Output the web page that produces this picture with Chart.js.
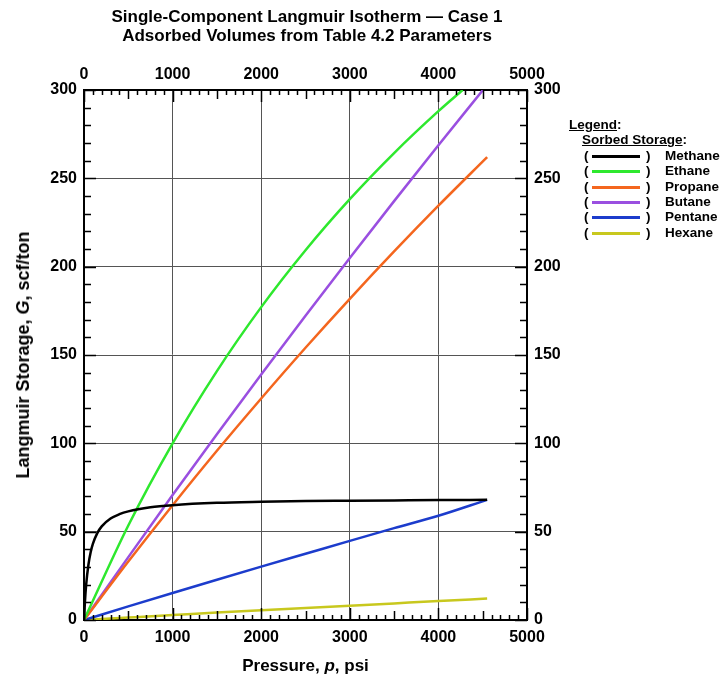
<!DOCTYPE html>
<html><head><meta charset="utf-8">
<script src="https://cdn.jsdelivr.net/npm/chart.js@4.4.1/dist/chart.umd.min.js"></script>
<style>
html,body{margin:0;padding:0;background:#fff;}
#wrap{position:relative;width:722px;height:681px;font-family:"Liberation Sans",Arial,sans-serif;}
#c{position:absolute;left:0;top:0;}
.t{position:absolute;font-weight:bold;color:#000;white-space:nowrap;}
#title{left:0;width:614px;top:7px;text-align:center;font-size:17px;line-height:19px;}
#xt{left:84px;width:443px;top:656px;text-align:center;font-size:17px;line-height:20px;}
#yt{left:23px;top:355px;font-size:18px;line-height:20px;transform:translate(-50%,-50%) rotate(-90deg);}
#leg{position:absolute;left:569px;top:117px;font-size:13.5px;font-weight:bold;line-height:15.4px;}
#leg .u{text-decoration:underline;}
#leg .row{position:relative;height:15.4px;margin-left:13px;}
#leg .row span{position:absolute;top:0;}
#leg .row i{position:absolute;left:10px;top:7px;width:48px;height:3px;}
</style></head>
<body><div id="wrap">
<canvas id="c" width="722" height="681"></canvas>
<div class="t" id="title">Single-Component Langmuir Isotherm — Case 1<br>Adsorbed Volumes from Table 4.2 Parameters</div>
<div class="t" id="xt">Pressure, <i>p</i>, psi</div>
<div class="t" id="yt">Langmuir Storage, <i>G</i>, scf/ton</div>
<div id="leg"></div>
</div>
<script>
const seriesNames = ["Methane","Ethane","Propane","Butane","Pentane","Hexane"];
const seriesColors = ["#000000","#2ee82e","#f4661e","#9a4fe0","#1c3ccc","#c8c81e"];
const methaneP = [0,10,25,50,75,100,150,200,300,400,500,750,1000,1500,2000,2500,3000,3500,4000,4550];
const methaneG = [0,9.8,20.3,31.3,38.3,43.1,49.2,53.0,57.4,59.9,61.5,63.8,65.0,66.3,66.9,67.3,67.5,67.7,67.9,68.0];
const ethaneP = [0,500,1000,1500,2000,2500,3000,3500,4000,4274];
const ethaneG = [0,53.5,100,140.9,177.1,209.3,238.2,264.3,288.0,300];
const propaneP = [0,500,1000,1500,2000,2500,3000,3500,4000,4550];
const propaneG = [0,33.1,65.0,95.8,125.4,154.1,181.8,208.6,234.5,262];
const butaneP = [0,500,1000,1500,2000,2500,3000,3500,4000,4503];
const butaneG = [0,35.6,70.7,105.1,138.9,172.2,204.9,237.1,268.7,300];
const pentaneP = [0,500,1000,1500,2000,2500,3000,3500,4000,4550];
const pentaneG = [0,7.7,15.3,22.8,30.2,37.5,44.8,52.0,59.0,68.0];
const hexaneP = [0,500,1000,1500,2000,2500,3000,3500,4000,4550];
const hexaneG = [0,1.4,2.8,4.2,5.5,6.8,8.1,9.4,10.7,12.1];
const xTicks = [0,1000,2000,3000,4000,5000];
const yTicks = [0,50,100,150,200,250,300];

const P = [methaneP,ethaneP,propaneP,butaneP,pentaneP,hexaneP];
const G = [methaneG,ethaneG,propaneG,butaneG,pentaneG,hexaneG];

const leg = document.getElementById('leg');
leg.innerHTML = '<div><span class="u">Legend</span>:</div><div style="margin-left:13px"><span class="u">Sorbed Storage</span>:</div>' +
  seriesNames.map((n,i)=>'<div class="row"><span style="left:2px">(</span><i style="background:'+seriesColors[i]+'"></i><span style="left:64px">)</span><span style="left:83px">'+n+'</span></div>').join('');

const tickFont = {family:'"Liberation Sans", Arial, sans-serif', size:16, weight:'bold'};

const minorTicks = {
  id:'minorTicks',
  afterDatasetsDraw(chart){
    const ctx = chart.ctx, a = chart.chartArea;
    const xs = chart.scales.x, ys = chart.scales.y;
    ctx.save();
    ctx.strokeStyle = '#000'; ctx.lineWidth = 1.5;
    ctx.beginPath();
    for(let v=0; v<=5000; v+=100){
      const px = Math.round(xs.getPixelForValue(v))+0.5;
      const len = v%1000===0 ? 12 : (v%500===0 ? 9 : 5);
      ctx.moveTo(px,a.bottom); ctx.lineTo(px,a.bottom-len);
      ctx.moveTo(px,a.top); ctx.lineTo(px,a.top+len);
    }
    for(let v=0; v<=300; v+=10){
      const py = Math.round(ys.getPixelForValue(v))+0.5;
      const len = v%50===0 ? 12 : 7;
      ctx.moveTo(a.left,py); ctx.lineTo(a.left+len,py);
      ctx.moveTo(a.right,py); ctx.lineTo(a.right-len,py);
    }
    ctx.stroke();
    ctx.restore();
  }
};

const datasets = seriesNames.map((n,i)=>({
  label:n,
  data:P[i].map((p,j)=>({x:p,y:G[i][j]})),
  showLine:true, borderColor:seriesColors[i], backgroundColor:seriesColors[i],
  borderWidth:2.5, pointRadius:0, cubicInterpolationMode:'monotone', fill:false
}));

function xAxis(pos, h, pad, grid){
  return {type:'linear', position:pos, min:0, max:5000,
    afterBuildTicks(s){ s.ticks = xTicks.map(v=>({value:v})); },
    afterFit(s){ s.height = h; },
    ticks:{font:tickFont, color:'#000', padding:pad, maxRotation:0, callback:v=>String(v)},
    grid:{display:grid, drawTicks:false, color:'#555', lineWidth:1},
    border:{display:true, color:'#000', width:2}};
}
function yAxis(pos, w, pad, grid){
  return {type:'linear', position:pos, min:0, max:300,
    afterBuildTicks(s){ s.ticks = yTicks.map(v=>({value:v})); },
    afterFit(s){ s.width = w; },
    ticks:{font:tickFont, color:'#000', padding:pad, callback:v=>String(v)},
    grid:{display:grid, drawTicks:false, color:'#555', lineWidth:1},
    border:{display:true, color:'#000', width:2}};
}

new Chart(document.getElementById('c'), {
  type:'scatter',
  data:{datasets},
  options:{
    responsive:false, animation:false,
    layout:{padding:{left:0,right:155,top:60,bottom:0}},
    plugins:{legend:{display:false}, tooltip:{enabled:false}},
    scales:{
      x: xAxis('bottom', 61, 8, true),
      x2: xAxis('top', 30, 6, false),
      y: yAxis('left', 84, 7, true),
      y2: yAxis('right', 40, 7, false)
    }
  },
  plugins:[minorTicks]
});
</script>
</body></html>
